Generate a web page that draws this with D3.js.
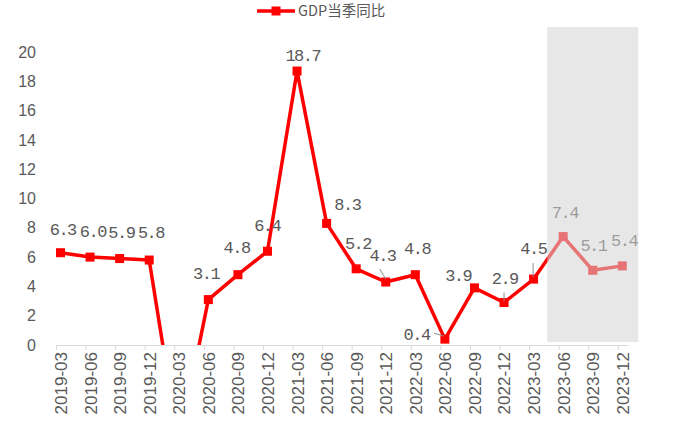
<!DOCTYPE html>
<html><head><meta charset="utf-8">
<script src="https://cdn.jsdelivr.net/npm/d3@7/dist/d3.min.js"></script>
<style>
html,body{margin:0;padding:0;background:#fff;}
svg{display:block;}
</style></head>
<body>
<svg id="chart" width="684" height="422"></svg>
<script>
// ---- data ----
const categories = ["2019-03","2019-06","2019-09","2019-12","2020-03","2020-06","2020-09","2020-12",
  "2021-03","2021-06","2021-09","2021-12","2022-03","2022-06","2022-09","2022-12",
  "2023-03","2023-06","2023-09","2023-12"];
const gdpValues = [6.3,6.0,5.9,5.8,-6.8,3.1,4.8,6.4,18.7,8.3,5.2,4.3,4.8,0.4,3.9,2.9,4.5,7.4,5.1,5.4];
const yTicks = [0,2,4,6,8,10,12,14,16,18,20];
const seriesName = "GDP当季同比";
const forecastStart = "2023-06";

// ---- layout / style (not data) ----
const labelOffsets = [[1.5,-24],[2,-26],[1,-27],[1,-28],null,[-3,-27],[-2,-28],[-1,-26],
  [5,-16],[20,-19],[1,-26],[-4,-27],[1,-27],[-29,-5],[-17,-13],[0,-24],[-1,-31],[1,-25],[0,-25],[1,-26]];
const leaders = {11:[[-6,-13],[0,-3]],13:[[-11,-6],[-1,-3]],15:[[0,-10],[0,-1]],16:[[-0.5,-16],[-0.5,-2]]};
const RED = "#ff0000", TXT = "#595959";

const svg = d3.select("#chart");
const x = d3.scalePoint().domain(categories).range([60.5, 622.3]);
const y = d3.scaleLinear().domain([0,20]).range([345,52]);

// y axis
const ya = svg.append("g").attr("transform","translate(39,0)")
  .call(d3.axisLeft(y).tickValues(yTicks).tickSize(0).tickPadding(3));
ya.select(".domain").remove();
ya.selectAll("text").attr("fill",TXT).style("font-family","'Liberation Sans',Arial,sans-serif").style("font-size","16px");

// x axis
const xa = svg.append("g").attr("transform",`translate(0,${y(0)})`)
  .call(d3.axisBottom(x).tickSize(5).tickSizeOuter(0));
xa.select(".domain").attr("d",`M${x(categories[0])-4.5},0.5H${x(categories[categories.length-1])+6}`)
  .attr("stroke","#d9d9d9");
xa.selectAll(".tick line").attr("x1",-4.5).attr("x2",-4.5).attr("stroke","#d9d9d9");
xa.selectAll(".tick text")
  .attr("transform","rotate(-90)")
  .attr("x",-7).attr("y",0).attr("dy","0.35em")
  .attr("text-anchor","end")
  .attr("fill",TXT)
  .style("font-family","'Liberation Sans',Arial,sans-serif").style("font-size","17px");

// clip plot at zero line
svg.append("clipPath").attr("id","plotclip").append("rect")
  .attr("x",0).attr("y",0).attr("width",684).attr("height",y(0));

const pts = categories.map((c,i)=>({c, v:gdpValues[i], i}));
const plot = svg.append("g").attr("clip-path","url(#plotclip)");
plot.append("path").datum(pts)
  .attr("d", d3.line().x(d=>x(d.c)).y(d=>y(d.v)))
  .attr("fill","none").attr("stroke",RED).attr("stroke-width",3.5).attr("stroke-linejoin","round");
plot.selectAll("rect.m").data(pts).join("rect").attr("class","m")
  .attr("x",d=>x(d.c)-4.5).attr("y",d=>y(d.v)-4.5).attr("width",9).attr("height",9).attr("fill",RED);

// leaders
Object.entries(leaders).forEach(([i,seg])=>{
  const d = pts[+i];
  svg.append("line")
    .attr("x1",x(d.c)+seg[0][0]).attr("y1",y(d.v)+seg[0][1])
    .attr("x2",x(d.c)+seg[1][0]).attr("y2",y(d.v)+seg[1][1])
    .attr("stroke","#8c8c8c").attr("stroke-width",1);
});

// data labels
svg.selectAll("text.lbl").data(pts.filter(d=>d.v>=0)).join("text").attr("class","lbl")
  .attr("x",d=>x(d.c)+labelOffsets[d.i][0]+0.75)
  .attr("y",d=>y(d.v)+labelOffsets[d.i][1])
  .attr("dy","0.35em").attr("text-anchor","middle")
  .attr("fill",TXT)
  .style("font-family","'Liberation Mono',monospace").style("font-size","17px").style("letter-spacing","-1.5px")
  .text(d=>d.v.toFixed(1));

// forecast shading overlay
svg.append("rect")
  .attr("x", x(forecastStart)-16)
  .attr("y", 27)
  .attr("width", x(categories[categories.length-1]) - x(forecastStart) + 32)
  .attr("height", y(0)-3-27)
  .attr("fill","rgb(212,212,212)").attr("fill-opacity",0.55);

// legend
const lg = svg.append("g");
lg.append("line").attr("x1",257).attr("x2",295).attr("y1",11).attr("y2",11).attr("stroke",RED).attr("stroke-width",3.5);
lg.append("rect").attr("x",271.5).attr("y",6.5).attr("width",9).attr("height",9).attr("fill",RED);
lg.append("text").attr("x",298).attr("y",11).attr("dy","0.35em").attr("fill",TXT)
  .style("font-family","'Noto Sans CJK SC',sans-serif").style("font-size","14.5px").text(seriesName);
</script>
</body></html>
